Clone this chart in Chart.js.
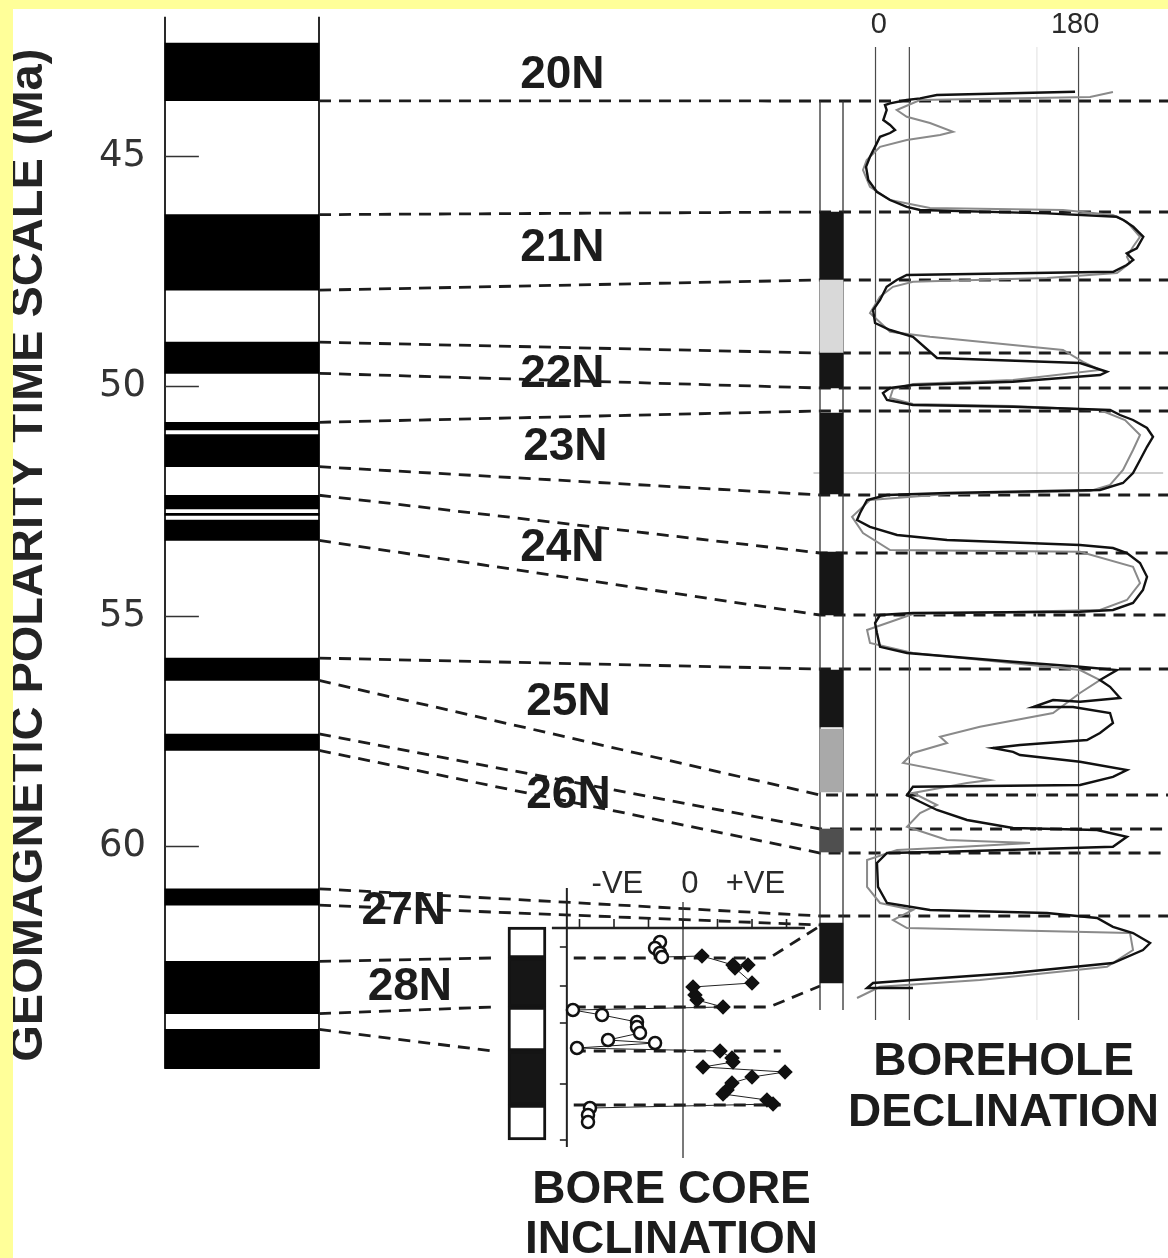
<!DOCTYPE html>
<html>
<head>
<meta charset="utf-8">
<script src="https://cdn.jsdelivr.net/npm/chart.js@4/dist/chart.umd.min.js"></script>
<style>
  html, body { margin: 0; padding: 0; background: #ffff99; }
  #wrap { position: absolute; left: 13px; top: 9px; width: 1155px; height: 1249px; background: #ffffff; }
  canvas { display: block; }
</style>
</head>
<body>
<div id="wrap"><canvas id="fig" width="1155" height="1249"></canvas></div>
<script>
// ---------------------------------------------------------------------------
// Geomagnetic polarity time scale: normal-polarity intervals (Ma)
const gptsNormal = [
  [42.536, 43.789], [46.264, 47.906], [49.037, 49.714],
  [50.778, 50.946], [51.047, 51.743],
  [52.364, 52.663], [52.757, 52.801], [52.903, 53.347],
  [55.904, 56.391], [57.554, 57.911], [60.920, 61.276],
  [62.499, 63.634], [63.976, 64.83]
];
const gptsSpan = [41.96, 64.83];
const ageTicks = [45, 50, 55, 60];
const chronLabels = ['20N', '21N', '22N', '23N', '24N', '25N', '26N', '27N', '28N'];

// Borehole magnetostratigraphy (depth, m) and polarity class of each interval
const boreholeIntervals = [
  [61, 95], [95, 131.5], [131.5, 149], [161.5, 202], [231, 262.5],
  [290, 318.5], [319.5, 351], [369.5, 381], [416.5, 446.5]
];
const boreholePolarity = ['N', 'Nq', 'N', 'N', 'N', 'N', 'T', 'Tq', 'N'];
const boreholeSpan = [5.5, 460];

// Borehole declination logs: [declination deg, depth m]
const declinationRun1 = [
  [176.9,0.9],[54.3,2.5],[39.5,4.2],[27.7,5],[12.9,6.7],[8.4,7.5],[9.9,10],[6.9,15],[12.9,17.5],[17.3,20],
  [12.9,21.5],[4.0,23.4],[1.1,26.7],[-4.9,33.4],[-8.4,38.4],[-6.4,45],[1.1,50.9],[12.9,55],[27.7,58.4],[39.5,60],
  [151.8,61.7],[213.8,63.4],[219.7,65],[228.5,68.4],[237.4,73.4],[231.6,79.2],[222.7,81.7],[228.5,85],[222.7,87.5],[210.8,90.9],
  [27.7,92.5],[18.8,95],[9.9,98.4],[4.0,105],[-2.2,110],[-0.4,116.5],[12.9,120],[33.2,123.4],[54.5,134],[181.3,136.5],
  [205.2,140.9],[199.0,142.5],[121.9,145.9],[33.2,147.5],[12.9,149],[6.6,151.5],[10.2,155],[33.2,157.5],[121.9,158.4],[208.0,160],
  [216.8,162.5],[228.3,165],[240.7,169],[246.0,173.4],[240.7,178.4],[234.5,185],[228.3,191.5],[219.4,196.5],[199.0,200],[63.4,201.5],
  [10.2,202.5],[-7.5,205],[-13.7,211.5],[-16.4,215],[-4.9,218.4],[19.1,222.5],[63.4,225],[181.3,227.5],[210.5,229],[222.9,231.5],
  [234.5,236.5],[240.7,243.4],[237.1,250],[228.3,256.5],[210.5,260],[181.3,260.9],[33.2,261.5],[4.0,262.5],[-0.4,266.5],[1.3,271.5],
  [4.0,278.4],[27.9,281.5],[121.9,285.9],[181.3,288.4],[214.1,290],[199.0,295],[207.9,298.4],[216.8,304],[181.3,305.9],[157.4,305],
  [139.6,308.5],[175.1,308.5],[207.9,311.5],[210.5,316.5],[199.0,321.5],[187.5,325],[128.1,327.5],[104.2,329],[121.9,330.9],[128.1,332.5],
  [181.3,335.9],[222.9,340],[210.5,343.4],[181.3,347.5],[33.2,348.4],[27.9,352.5],[39.5,355.9],[54.5,360],[81.1,365],[121.9,369],
  [196.4,370],[222.9,373.4],[210.5,378.4],[63.4,380.9],[10.2,381.5],[1.3,386.5],[2.2,398.4],[10.2,406.5],[48.3,410],[152.0,411.5],
  [196.4,414],[210.5,418.4],[228.3,421.5],[243.4,426.5],[237.1,430],[210.5,436.5],[121.9,441.5],[33.2,445],[-2.2,446.5],[-7.5,449],[33.2,449]
];
const declinationRun2 = [
  [210.5,1],[190.2,3.5],[39.5,5],[18.8,10],[27.7,13.4],[48.3,16.5],[68.7,20.9],[57.2,22.5],[27.7,25],[4.0,28.4],
  [-7.8,35],[-11.1,40],[-4.9,48.4],[12.9,55],[48.3,59],[166.2,60],[210.5,62.5],[222.9,65.9],[234.5,73.4],[228.3,78.4],
  [222.9,83.4],[225.6,86.5],[214.1,91.5],[152.0,94],[33.2,95.9],[15.5,98.4],[4.0,103.4],[-4.9,111.5],[12.9,120.9],[48.3,123.4],
  [166.2,130],[184.0,135.9],[199.0,140],[121.9,145],[33.2,147],[15.5,149.5],[12.9,154],[33.2,157],[121.9,158],[199.0,160],
  [221.2,165],[234.5,172.5],[228.3,180],[219.4,190],[207.9,197.5],[190.2,200.5],[63.4,202],[-4.9,205],[-20.8,213.4],[-11.1,221.5],
  [12.9,230],[181.3,230.9],[228.3,238.4],[234.5,246.5],[222.9,255],[199.0,260],[33.2,262],[-7.5,270],[-4.9,276.5],[33.2,281.5],
  [181.3,290],[199.0,295],[181.3,301.5],[157.4,311.5],[92.6,318.4],[57.2,323.4],[63.4,326.5],[33.2,331.5],[24.4,336.5],[101.5,345],
  [81.1,346.5],[33.2,351.5],[54.5,357.5],[39.5,361.5],[27.9,368.4],[63.4,375],[137.0,376.5],[77.6,378.4],[19.1,380],[-7.5,385],
  [-7.5,398.4],[4.0,406.5],[33.2,410],[15.5,415],[27.9,419],[225.6,421.5],[228.3,430],[205.2,438.4],[92.6,445],[4.0,448.4],[-16.4,454]
];
const declinationGrid = [0, 30, 180];
const declinationLabels = ['0', '180'];

// Bore core: polarity intervals (core depth, m) and inclination samples [inclination deg, depth m]
const coreIntervals = [[0, 1.55], [1.55, 4.0], [4.0, 6.2], [6.2, 8.9], [8.9, 10.65]];
const corePolarity = ['R', 'N', 'R', 'N', 'R'];
const coreInclination = [
  [-20,0.75],[-24.3,1.05],[-20,1.3],[-18.3,1.5],[16.5,1.45],[43.5,1.9],[56.5,1.9],[45.2,2.05],[60,2.8],[8.7,3.0],
  [10.4,3.4],[12.2,3.65],[34.8,4.0],[-95.7,4.15],[-70.4,4.4],[-40,4.75],[-40,5.0],[-37.4,5.3],[-65.2,5.65],[-24.3,5.8],
  [-92.2,6.05],[32.2,6.2],[42.6,6.55],[43.5,6.75],[17.4,7.0],[88.7,7.25],[60,7.5],[42.6,7.8],[38.3,8.15],[34.8,8.35],
  [73,8.65],[78.3,8.85],[-80.9,9.05],[-82.6,9.4],[-82.6,9.75]
];
const coreDepthTicks = [1.0, 2.95, 4.8, 7.85, 10.65];
const inclinationTicks = [-90, -60, -30, 0, 30, 60, 90];

// Correlation ties: GPTS reversal ages to borehole depths
const tieAges   = [43.789, 46.264, 47.906, 49.037, 49.714, 50.778, 51.743, 52.364, 53.347, 55.904, 56.391, 57.554, 57.911, 60.920, 61.276];
const tieDepths = [5.5, 61, 95, 131.5, 149, 160.5, 202.5, 231.5, 262.5, 289.5, 352.5, 369.5, 381.5, 413, 417.5];
const tieCarried = [true, true, true, true, true, true, true, true, true, true, true, true, true, true, false];
// GPTS ages to core depths, core levels, and core levels to borehole depths
const coreTieAges = [62.499, 63.634, 63.976];
const coreTieDepths = [1.55, 4.0, 6.2];
const coreLevels = [1.55, 4.0, 6.2, 8.9];
const coreLevelBorehole = [418, 448, null, null];
// ---------------------------------------------------------------------------

Chart.defaults.font.family = "'Liberation Sans', Arial, sans-serif";

const INK = '#1c1c1c';
const shade = { N: '#161616', Nq: '#d9d9d9', T: '#a9a9a9', Tq: '#4f4f4f', R: '#ffffff' };

const pts = arr => arr.map(([x, y]) => ({ x, y }));
const segment = (x0, y0, x1, y1) => [{ x: x0, y: y0 }, { x: x1, y: y1 }];
const lineSet = (data, xAxisID, yAxisID, color, width, order) => ({
  type: 'line', data, xAxisID, yAxisID, borderColor: color, borderWidth: width,
  pointRadius: 0, tension: 0, clip: false, order
});
const columnSet = (data, xAxisID, yAxisID, extra) => Object.assign({
  type: 'bar', data, xAxisID, yAxisID, order: 0, clip: false, grouped: false,
  borderWidth: 0, barPercentage: 1, categoryPercentage: 1
}, extra);

const datasets = [
  // declination logs
  lineSet(pts(declinationRun1), 'xDec', 'yDepth', '#111111', 2.4, 1),
  lineSet(pts(declinationRun2), 'xDec', 'yDepth', '#8a8a8a', 2.0, 2),
  // declination reference verticals
  ...declinationGrid.map(v => lineSet(segment(v, -21.5, v, 465), 'xDec', 'yDepth', '#4a4a4a', 1.2, 10)),
  lineSet(segment(143, -21.5, 143, 465), 'xDec', 'yDepth', '#ececec', 1, 11),
  lineSet(segment(-55, 191.5, 255, 191.5), 'xDec', 'yDepth', '#a0a0a0', 1, 9),
  // borehole polarity column
  columnSet(boreholeIntervals.map(r => ({ x: 0.5, y: r })), 'xB', 'yDepth', {
    backgroundColor: boreholePolarity.map(p => shade[p])
  }),
  lineSet(segment(0, boreholeSpan[0], 0, boreholeSpan[1]), 'xB', 'yDepth', '#333', 1.3, 0),
  lineSet(segment(1, boreholeSpan[0], 1, boreholeSpan[1]), 'xB', 'yDepth', '#333', 1.3, 0),
  // GPTS column
  columnSet(gptsNormal.map(r => ({ x: 0.5, y: r })), 'xG', 'yAge', { backgroundColor: '#000000' }),
  lineSet(segment(0, gptsSpan[0], 0, gptsSpan[1]), 'xG', 'yAge', '#2a2a2a', 2, 0),
  lineSet(segment(1, gptsSpan[0], 1, gptsSpan[1]), 'xG', 'yAge', '#2a2a2a', 2, 0),
  // bore core polarity column
  columnSet(coreIntervals.map(r => ({ x: 0.5, y: r })), 'xC', 'yCore', {
    backgroundColor: corePolarity.map(p => shade[p]),
    borderColor: '#141414', borderWidth: 3, borderSkipped: false
  }),
  // bore core inclination samples
  {
    type: 'line', xAxisID: 'xInc', yAxisID: 'yCore', order: 1, clip: false,
    data: pts(coreInclination),
    borderColor: '#222', borderWidth: 1, tension: 0,
    pointRadius: 6, pointBorderWidth: 2.5, pointBorderColor: '#111',
    pointStyle: c => (c.raw && c.raw.x < 0 ? 'circle' : 'rectRot'),
    pointBackgroundColor: c => (c.raw && c.raw.x < 0 ? '#ffffff' : '#111111')
  },
  // bore core axes
  lineSet(segment(-101, -1.95, -101, 11.0), 'xInc', 'yCore', '#222', 2, 3),
  lineSet(segment(-114, 0.05, 106, 0.05), 'xInc', 'yCore', '#222', 2.5, 3),
  lineSet(segment(0, -1.25, 0, 11.55), 'xInc', 'yCore', '#333', 1.3, 3)
];

// Figure annotations: chron names, panel titles, declination / inclination captions
const figureText = {
  id: 'figureText',
  beforeDatasetsDraw(chart, args, opts) {
    const { ctx, scales: s } = chart;
    ctx.save();
    ctx.fillStyle = INK;
    ctx.textAlign = 'center';
    ctx.textBaseline = 'middle';
    ctx.font = "bold 46px 'Liberation Sans', Arial, sans-serif";
    chronLabels.forEach((name, i) => {
      const [gx, age] = opts.chronAnchors[i];
      ctx.fillText(name, s.xG.getPixelForValue(gx), s.yAge.getPixelForValue(age));
    });
    ctx.restore();
  },
  afterDatasetsDraw(chart) {
    const { ctx, scales: s } = chart;
    ctx.save();
    ctx.fillStyle = INK;
    ctx.textAlign = 'center';
    ctx.textBaseline = 'middle';
    ctx.font = "bold 46px 'Liberation Sans', Arial, sans-serif";
    const bx = s.xDec.getPixelForValue(113.5);
    ctx.fillText('BOREHOLE', bx, s.yDepth.getPixelForValue(486));
    ctx.fillText('DECLINATION', bx, s.yDepth.getPixelForValue(511.5));
    const cx = s.xInc.getPixelForValue(-10);
    ctx.fillText('BORE CORE', cx, s.yCore.getPixelForValue(13.15));
    ctx.fillText('INCLINATION', cx, s.yCore.getPixelForValue(15.65));

    ctx.fillStyle = '#2a2a2a';
    ctx.font = "29px 'Liberation Sans', Arial, sans-serif";
    const ty = s.yDepth.getPixelForValue(-32.5);
    ctx.fillText(declinationLabels[0], s.xDec.getPixelForValue(3), ty);
    ctx.fillText(declinationLabels[1], s.xDec.getPixelForValue(177), ty);

    ctx.font = "31px 'Liberation Sans', Arial, sans-serif";
    const vy = s.yCore.getPixelForValue(-2.15);
    ctx.fillText('-VE', s.xInc.getPixelForValue(-57), vy);
    ctx.fillText('0', s.xInc.getPixelForValue(6), vy);
    ctx.fillText('+VE', s.xInc.getPixelForValue(63), vy);
    ctx.restore();
  }
};

// Dashed correlation lines between the time scale, the core and the borehole
const correlation = {
  id: 'correlation',
  beforeDatasetsDraw(chart) {
    const { ctx, chartArea, scales: s } = chart;
    ctx.save();
    ctx.setLineDash([12, 8]);
    ctx.lineWidth = 2.8;
    ctx.strokeStyle = INK;
    const xg = s.xG.getPixelForValue(1);
    const xb = s.xB.getPixelForValue(0);
    tieAges.forEach((age, i) => {
      const yb = s.yDepth.getPixelForValue(tieDepths[i]);
      ctx.beginPath();
      ctx.moveTo(xg, s.yAge.getPixelForValue(age));
      ctx.lineTo(xb, yb);
      if (tieCarried[i]) ctx.lineTo(chartArea.right, yb);
      ctx.stroke();
    });
    const xcEnd = s.xC.getPixelForValue(-0.42);
    coreTieAges.forEach((age, i) => {
      ctx.beginPath();
      ctx.moveTo(xg, s.yAge.getPixelForValue(age));
      ctx.lineTo(xcEnd, s.yCore.getPixelForValue(coreTieDepths[i]));
      ctx.stroke();
    });
    coreLevels.forEach((lvl, i) => {
      const y = s.yCore.getPixelForValue(lvl);
      ctx.beginPath();
      ctx.moveTo(s.xInc.getPixelForValue(-95), y);
      if (coreLevelBorehole[i] !== null) {
        ctx.lineTo(s.xInc.getPixelForValue(75), y);
        ctx.lineTo(xb, s.yDepth.getPixelForValue(coreLevelBorehole[i]));
      } else {
        ctx.lineTo(s.xInc.getPixelForValue(85), y);
      }
      ctx.stroke();
    });
    ctx.restore();
  }
};

// Short inward tick marks for the age scale and the core axes
const innerTicks = {
  id: 'innerTicks',
  afterDatasetsDraw(chart) {
    const { ctx, scales: s } = chart;
    ctx.save();
    ctx.strokeStyle = '#333';
    ctx.lineWidth = 1.5;
    const x0 = s.xG.getPixelForValue(0), x1 = s.xG.getPixelForValue(0.22);
    s.yAge.ticks.forEach(t => {
      const y = Math.round(s.yAge.getPixelForValue(t.value)) + 0.5;
      ctx.beginPath(); ctx.moveTo(x0, y); ctx.lineTo(x1, y); ctx.stroke();
    });
    ctx.strokeStyle = '#222';
    ctx.lineWidth = 1.6;
    const ax = s.xInc.getPixelForValue(-101);
    coreDepthTicks.forEach(d => {
      const y = s.yCore.getPixelForValue(d);
      ctx.beginPath(); ctx.moveTo(ax - 7, y); ctx.lineTo(ax, y); ctx.stroke();
    });
    const ay = s.yCore.getPixelForValue(0.05);
    inclinationTicks.forEach(v => {
      const x = s.xInc.getPixelForValue(v);
      ctx.beginPath(); ctx.moveTo(x, ay); ctx.lineTo(x, ay - 9); ctx.stroke();
    });
    ctx.restore();
  }
};

// Column scales: one unit equals one column width
const columnScale = (min, max) => ({ type: 'linear', display: false, min, max, offset: false });

// The axis title sits above the middle of the axis; leading no-break spaces lift it
const axisTitle = '\u00a0'.repeat(12) + 'GEOMAGNETIC POLARITY TIME SCALE (Ma)';

const chart = new Chart(document.getElementById('fig'), {
  type: 'line',
  data: { datasets },
  options: {
    responsive: false,
    animation: false,
    events: [],
    devicePixelRatio: 1,
    layout: { autoPadding: false, padding: 0 },
    plugins: {
      legend: { display: false },
      tooltip: { enabled: false },
      figureText: {
        chronAnchors: [
          [2.58, 43.23], [2.58, 46.99], [2.58, 49.73], [2.60, 51.32], [2.58, 53.51],
          [2.62, 56.86], [2.62, 58.88], [1.55, 61.42], [1.59, 63.07]
        ]
      }
    },
    scales: {
      yAge: {
        type: 'linear', position: 'left', reverse: true,
        min: 41.7935, max: 68.946,
        afterBuildTicks: sc => { sc.ticks = ageTicks.map(v => ({ value: v })); },
        afterFit: sc => {
          sc.width = 152;
          sc.paddingTop = 0; sc.paddingBottom = 0;
          sc.paddingLeft = 0; sc.paddingRight = 0;
        },
        grid: { display: false, drawTicks: false },
        border: { display: false },
        ticks: {
          padding: 19, color: '#333',
          font: { family: "'DejaVu Sans', sans-serif", size: 37 }
        },
        title: {
          display: true,
          text: axisTitle,
          color: '#242424',
          font: { size: 47, weight: 'bold', lineHeight: 1 },
          padding: { top: -7, bottom: 0 }
        }
      },
      yDepth: { type: 'linear', display: false, reverse: true, min: -40.5, max: 584 },
      yCore: { type: 'linear', display: false, reverse: true, min: -45.9, max: 16.55 },
      xDec: { type: 'linear', display: false, min: -629.9, max: 259.3 },
      xInc: { type: 'linear', display: false, min: -450.4, max: 421.7 },
      xG: columnScale(0, 6.513),
      xB: columnScale(-28.478, 15.13),
      xC: columnScale(-9.026, 17.37)
    }
  },
  plugins: [figureText, correlation, innerTicks]
});

// Each polarity column is exactly one unit of its own x scale wide
chart.data.datasets.forEach(ds => {
  if (ds.type === 'bar') {
    const sc = chart.scales[ds.xAxisID];
    ds.barThickness = Math.abs(sc.getPixelForValue(1) - sc.getPixelForValue(0));
  }
});
chart.update('none');
</script>
</body>
</html>
